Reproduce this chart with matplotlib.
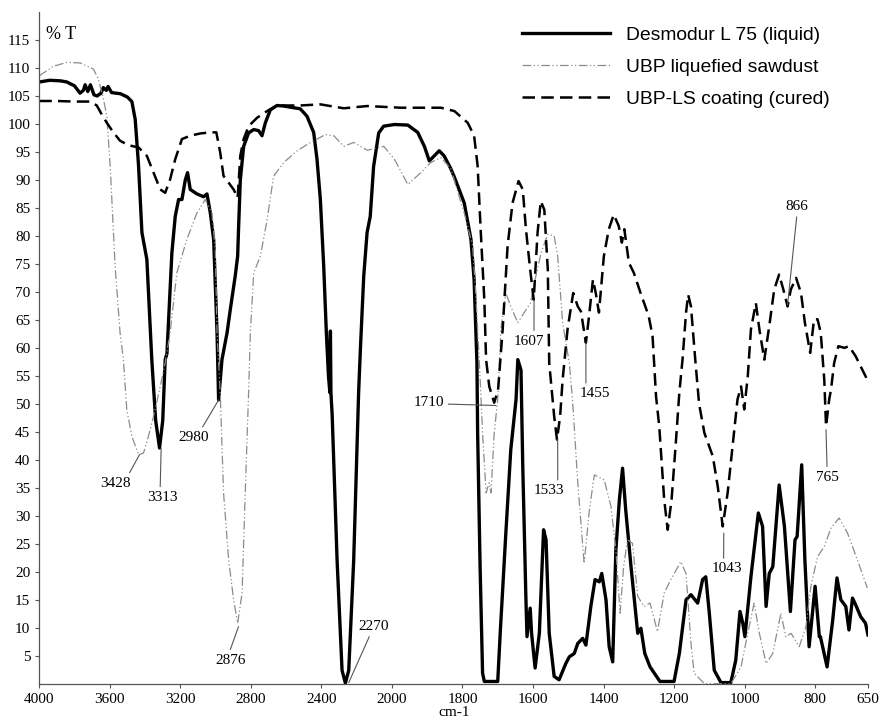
import numpy as np
import matplotlib.pyplot as plt

# FTIR spectra, % transmittance vs wavenumber (cm-1)

desmodur_wn = [4000, 3940, 3880, 3844, 3800, 3769, 3750, 3740, 3725, 3710, 3690, 3672,
               3650, 3637, 3620, 3610, 3590, 3540, 3500, 3475, 3456, 3437, 3418, 3390,
               3362, 3340, 3318, 3300, 3286, 3276, 3248, 3229, 3210, 3191, 3172, 3159,
               3144, 3106, 3068, 3049, 3030, 3011, 2992, 2983, 2964, 2935, 2917, 2889,
               2875, 2870, 2860, 2841, 2813, 2784, 2756, 2737, 2718, 2690, 2652, 2614,
               2576, 2520, 2482, 2444, 2425, 2406, 2387, 2372, 2360, 2352, 2349, 2346,
               2339, 2311, 2283, 2264, 2245, 2217, 2189, 2179, 2160, 2141, 2123, 2104,
               2075, 2047, 1993, 1955, 1927, 1908, 1894, 1880, 1866, 1852, 1833, 1823,
               1795, 1776, 1767, 1759, 1757, 1750, 1743, 1738, 1700, 1693, 1677, 1663,
               1648, 1643, 1634, 1629, 1620, 1617, 1608, 1604, 1594, 1582, 1570, 1563,
               1554, 1540, 1526, 1507, 1497, 1483, 1473, 1459, 1450, 1436, 1424, 1412,
               1405, 1393, 1384, 1374, 1365, 1355, 1346, 1337, 1322, 1303, 1294, 1283,
               1268, 1256, 1240, 1200, 1185, 1166, 1152, 1133, 1119, 1110, 1100, 1086,
               1067, 1039, 1025, 1013, 1005, 999, 982, 961, 949, 939, 930, 920,
               902, 887, 870, 857, 851, 838, 829, 817, 800, 788, 785, 766,
               750, 738, 727, 713, 704, 694, 685, 671, 657, 650]
desmodur_t = [107.5, 107.8, 107.7, 107.5, 106.8, 105.5, 106.0, 107.0, 105.8, 107.0, 105.2, 105.0,
              105.5, 106.5, 106.0, 106.7, 105.6, 105.4, 104.8, 104.0, 100.8, 92.5, 80.6, 75.8,
              57.9, 47.0, 42.1, 47.0, 57.9, 59.0, 77.0, 83.5, 86.5, 86.5, 90.0, 91.3,
              88.3, 87.5, 87.0, 87.5, 84.1, 79.3, 62.7, 50.7, 57.9, 62.7, 66.8, 72.8,
              76.4, 81.2, 90.0, 96.0, 98.4, 99.0, 98.8, 97.9, 100.2, 102.5, 103.3, 103.2,
              103.0, 102.7, 101.4, 98.5, 93.7, 86.5, 74.6, 62.7, 55.0, 52.0, 63.0, 52.0,
              48.0, 22.0, 2.4, 0.1, 2.4, 22.0, 52.0, 59.7, 72.8, 80.6, 83.5, 92.4,
              98.4, 99.6, 99.9, 99.8, 98.5, 96.0, 93.4, 94.3, 95.2, 94.3, 92.0, 90.5,
              85.9, 79.4, 72.2, 57.4, 44.8, 20.9, 1.9, 0.4, 0.4, 9.0, 26.9, 41.8,
              50.8, 57.9, 56.0, 38.8, 15.0, 8.4, 13.5, 9.0, 2.8, 9.0, 27.5, 25.7,
              9.0, 1.3, 0.7, 3.6, 4.8, 5.4, 7.2, 8.1, 6.9, 13.8, 18.6, 18.2,
              19.7, 15.0, 6.6, 3.9, 23.9, 32.9, 38.5, 31.0, 20.9, 9.0, 9.9, 5.4,
              3.0, 1.9, 0.4, 0.4, 5.4, 15.0, 15.9, 14.4, 18.6, 19.1, 12.6, 2.4,
              0.2, 0.2, 4.2, 12.9, 10.8, 8.4, 19.1, 30.5, 28.1, 13.8, 19.7, 20.9,
              35.5, 28.1, 12.9, 25.7, 26.3, 39.1, 22.1, 6.6, 17.4, 8.4, 8.4, 3.0,
              11.4, 18.9, 15.0, 13.8, 9.6, 15.3, 14.1, 12.0, 10.8, 8.7]

sawdust_wn = [4000, 3920, 3844, 3769, 3693, 3665, 3636, 3617, 3598, 3570, 3542, 3523,
              3504, 3475, 3437, 3409, 3381, 3352, 3314, 3286, 3258, 3220, 3163, 3106,
              3059, 3021, 3002, 2992, 2974, 2955, 2926, 2898, 2875, 2850, 2832, 2813,
              2803, 2784, 2746, 2708, 2671, 2614, 2538, 2462, 2377, 2330, 2273, 2216,
              2140, 2046, 1993, 1955, 1918, 1890, 1861, 1833, 1795, 1771, 1762, 1752,
              1743, 1733, 1724, 1719, 1710, 1700, 1691, 1677, 1663, 1643, 1620, 1607,
              1594, 1577, 1558, 1540, 1530, 1516, 1497, 1488, 1473, 1455, 1440, 1426,
              1398, 1379, 1365, 1353, 1343, 1332, 1318, 1303, 1285, 1268, 1247, 1228,
              1209, 1181, 1166, 1152, 1143, 1114, 1039, 1010, 991, 973, 958, 939,
              920, 897, 883, 868, 845, 826, 812, 793, 774, 755, 732, 708,
              680, 652]
sawdust_t = [108.6, 110.3, 111.0, 110.9, 109.8, 108.0, 104.4, 101.4, 92.5, 74.6, 62.7, 57.9,
             49.0, 44.2, 40.9, 41.2, 44.2, 47.8, 53.1, 57.3, 62.7, 73.4, 79.4, 84.1,
             86.5, 84.1, 77.6, 62.7, 52.0, 34.1, 22.1, 15.0, 10.8, 16.2, 34.1, 52.0,
             62.7, 73.4, 76.4, 82.9, 90.7, 93.1, 95.2, 96.7, 98.1, 97.9, 96.0, 96.7,
             95.3, 96.0, 93.7, 89.2, 91.3, 93.1, 94.0, 92.0, 84.1, 78.2, 69.2, 57.3,
             44.8, 34.1, 35.9, 34.1, 44.8, 50.8, 63.3, 69.8, 67.4, 64.5, 66.8, 68.0,
             72.2, 77.0, 80.3, 80.0, 76.4, 64.5, 57.3, 50.8, 35.9, 21.5, 31.1, 37.3,
             36.4, 31.7, 23.9, 12.6, 20.9, 25.7, 25.1, 15.6, 13.8, 14.4, 9.3, 16.2,
             18.6, 21.8, 19.7, 7.2, 1.9, 0.0, 0.0, 3.0, 9.0, 14.4, 9.0, 3.6,
             5.4, 12.6, 8.4, 9.0, 6.6, 10.2, 17.4, 22.7, 24.5, 27.8, 29.6, 26.9,
             22.1, 17.1]

coating_wn = [4000, 3900, 3800, 3711, 3674, 3646, 3617, 3580, 3542, 3494, 3437, 3390,
              3352, 3314, 3286, 3258, 3229, 3191, 3144, 3087, 3030, 2996, 2974, 2955,
              2926, 2898, 2875, 2860, 2841, 2813, 2765, 2708, 2652, 2520, 2406, 2330,
              2273, 2140, 1975, 1880, 1861, 1823, 1785, 1767, 1757, 1748, 1738, 1733,
              1724, 1710, 1699, 1686, 1672, 1658, 1641, 1629, 1620, 1608, 1598, 1587,
              1578, 1568, 1558, 1554, 1540, 1532, 1523, 1516, 1502, 1486, 1473, 1464,
              1450, 1441, 1430, 1422, 1413, 1399, 1385, 1371, 1357, 1348, 1341, 1328,
              1314, 1295, 1272, 1261, 1251, 1242, 1228, 1218, 1207, 1195, 1185, 1176,
              1166, 1160, 1152, 1140, 1129, 1114, 1090, 1076, 1062, 1048, 1034, 1020,
              1010, 1001, 991, 982, 968, 958, 944, 930, 916, 902, 890, 878,
              869, 854, 840, 829, 814, 803, 793, 784, 774, 769, 760, 755,
              746, 734, 717, 704, 685, 666, 652]
coating_t = [104.1, 104.1, 104.0, 104.0, 103.3, 101.7, 100.2, 98.5, 97.0, 96.2, 95.8, 94.3,
             91.3, 88.3, 87.7, 90.1, 93.7, 97.3, 97.9, 98.3, 98.5, 98.5, 94.9, 90.7,
             89.5, 88.3, 86.8, 94.3, 97.3, 99.6, 101.1, 102.3, 103.3, 103.3, 103.5, 103.1,
             102.8, 103.2, 102.9, 102.9, 102.9, 102.3, 100.2, 97.9, 92.5, 80.6, 68.6, 57.9,
             53.1, 50.2, 52.5, 63.3, 78.2, 85.9, 89.8, 88.3, 81.2, 74.0, 68.6, 80.6,
             86.2, 84.7, 74.0, 57.3, 47.8, 43.6, 47.8, 54.3, 63.3, 69.8, 67.4, 66.5,
             60.9, 65.7, 72.2, 69.8, 66.3, 76.4, 81.2, 83.8, 81.8, 78.8, 81.2, 75.2,
             73.4, 69.8, 65.7, 62.1, 51.3, 46.0, 32.9, 27.5, 32.9, 43.0, 52.0, 57.9,
             66.3, 69.5, 67.4, 58.0, 50.0, 44.8, 40.6, 35.2, 28.1, 34.1, 42.4, 50.8,
             53.1, 49.0, 54.9, 63.3, 68.0, 63.3, 57.9, 63.9, 70.4, 73.1, 70.4, 67.4,
             70.4, 72.5, 69.8, 64.5, 59.1, 65.1, 65.1, 62.7, 54.3, 46.0, 50.8, 52.5,
             57.3, 60.3, 60.0, 60.3, 58.5, 56.1, 54.3]

# peak labels: text, band position (wn, %T), label position (wn, %T)
peak_labels = ['3428', '3313', '2980', '2876', '2270', '1710',
               '1607', '1533', '1455', '1043', '765', '866']
peak_xy = [(3432, 40.9), (3309, 42.0), (2983, 50.7), (2870, 10.2), (2245, 0.2), (1705, 49.7),
           (1597, 68.6), (1530, 43.6), (1450, 60.9), (1059, 26.9), (769, 45.4), (878, 67.7)]
label_xy = [(3570, 35.8), (3301, 33.3), (3125, 44.0), (2913, 4.2), (2106, 10.3), (1895, 50.2),
            (1611, 61.2), (1554, 34.5), (1424, 51.8), (1050, 20.5), (764, 36.9), (851, 85.3)]
# where the leader line leaves the label box (fraction of box width, height)
leader_from = [(0.9, 1.0), (0.42, 1.0), (0.72, 1.0), (0.43, 1.0), (0.43, 0.0), (1.0, 0.4),
               (0.66, 1.0), (0.78, 1.0), (0.2, 1.0), (0.39, 1.0), (0.47, 1.0), (0.5, 0.0)]

x_ticks = [4000, 3600, 3200, 2800, 2400, 2000, 1800, 1600, 1400, 1200, 1000, 800, 650]


# the usual IR layout: above 2000 cm-1 the axis is compressed by half
def forward(x):
    x = np.asarray(x, dtype=float)
    return np.where(x >= 2000, x / 2 + 1000, x)


def inverse(u):
    u = np.asarray(u, dtype=float)
    return np.where(u >= 2000, (u - 1000) * 2, u)


plt.rcParams['font.family'] = 'Liberation Serif'

fig = plt.figure(figsize=(8.81, 7.22), dpi=100)
ax = fig.add_axes([39.3 / 881, 1 - 683.7 / 722, (868 - 39.3) / 881, (683.7 - 12) / 722])
ax.set_xscale('function', functions=(forward, inverse))

ax.plot(desmodur_wn, desmodur_t, color='black', lw=2.4, label='Desmodur L 75 (liquid)')
ax.plot(sawdust_wn, sawdust_t, color='#8c8c8c', lw=0.9, dashes=[7, 2, 1, 2, 1, 2],
        label='UBP liquefied sawdust')
ax.plot(coating_wn, coating_t, color='black', lw=1.8, dashes=[5, 2.5],
        label='UBP-LS coating (cured)')

for txt, xy, xyt, rp in zip(peak_labels, peak_xy, label_xy, leader_from):
    ax.annotate(txt, xy=xy, xytext=xyt, ha='center', va='center', fontsize=11,
                arrowprops=dict(arrowstyle='-', color='#555555', lw=0.8,
                                relpos=rp, shrinkA=1, shrinkB=0))

ax.set_xlim(4000, 650)
ax.set_ylim(0, 120)
ax.set_xticks(x_ticks)
ax.set_xticklabels([str(t) for t in x_ticks])
ax.set_yticks(range(5, 120, 5))
ax.xaxis.set_minor_locator(plt.NullLocator())
ax.tick_params(labelsize=11, length=3, width=0.8, color='#555555')
for s in ['top', 'right']:
    ax.spines[s].set_visible(False)
for s in ['left', 'bottom']:
    ax.spines[s].set_color('#555555')
    ax.spines[s].set_linewidth(0.9)

ax.set_xlabel('cm-1', fontsize=11, labelpad=0)
ax.text(3960, 116, '% T', fontsize=13, ha='left', va='center')

ax.legend(loc='upper left', bbox_to_anchor=(512 / 881, 1 - 17 / 722),
          bbox_transform=fig.transFigure, frameon=False, borderpad=0,
          handlelength=4.56, handletextpad=0.83, labelspacing=0.74,
          prop={'family': 'Liberation Sans', 'size': 13.9})

fig.savefig('out.png', dpi=100)
